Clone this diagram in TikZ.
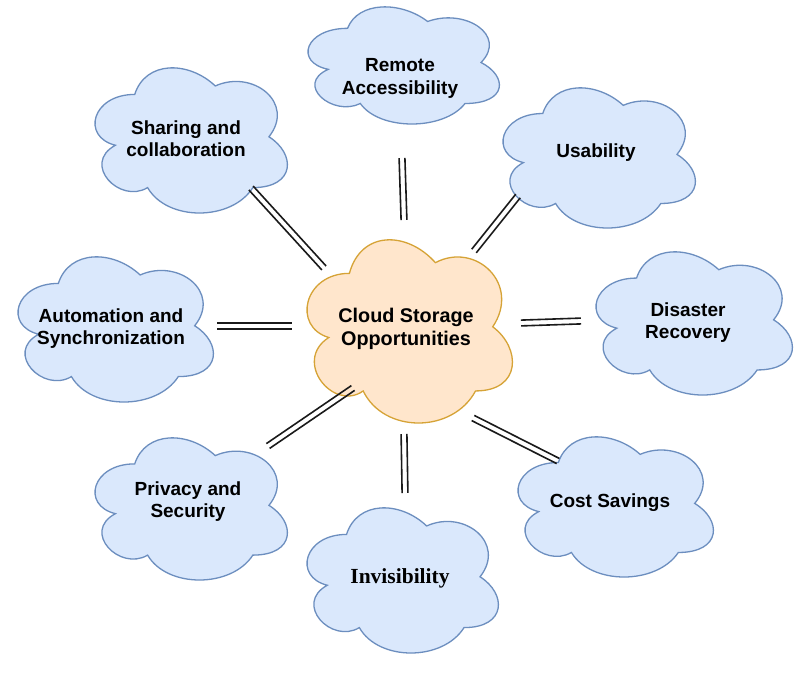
\documentclass[tikz,border=0pt]{standalone}
\usepackage{fontspec}
\setmainfont{Liberation Sans}
\newfontfamily\serifb{Liberation Serif}
\usetikzlibrary{calc}
\definecolor{bluefill}{HTML}{DAE8FC}
\definecolor{bluedraw}{HTML}{6C8EBF}
\definecolor{orfill}{HTML}{FFE6CC}
\definecolor{ordraw}{HTML}{D6A336}
\definecolor{linkcol}{HTML}{1A1A1A}
\newcommand\drawcloud[5]{%
 \pgfmathsetmacro\cldw{(#3-#1)/0.894}%
 \pgfmathsetmacro\cldh{(#4-#2)/0.856}%
 \pgfmathsetmacro\cldx{#1-0.065*\cldw}%
 \pgfmathsetmacro\cldy{#2-0.094*\cldh}%
 \draw[#5,shift={(\cldx,\cldy)},xscale=\cldw,yscale=\cldh]
  (0.25,0.25) .. controls (0.05,0.25) and (0,0.5) .. (0.16,0.55)
  .. controls (0,0.66) and (0.18,0.9) .. (0.31,0.8)
  .. controls (0.4,1) and (0.7,1) .. (0.8,0.8)
  .. controls (1,0.8) and (1,0.6) .. (0.875,0.5)
  .. controls (1,0.3) and (0.8,0.1) .. (0.625,0.2)
  .. controls (0.5,0.05) and (0.3,0.05) .. (0.25,0.25) -- cycle;}
\newcommand\dlink[2]{%
 \draw[linkline] ($(#1)!2.9pt!90:(#2)$) -- ($(#2)!2.9pt!-90:(#1)$);
 \draw[linkline] ($(#1)!2.9pt!-90:(#2)$) -- ($(#2)!2.9pt!90:(#1)$);}
\begin{document}
\begin{tikzpicture}[x=1pt,y=-1pt,
  bluecloud/.style={fill=bluefill,draw=bluedraw,line width=1.3pt},
  orcloud/.style={fill=orfill,draw=ordraw,line width=1.3pt},
  lbl/.style={font=\bfseries\fontsize{19}{22.7}\selectfont,align=center,inner sep=0pt},
  biglbl/.style={font=\bfseries\fontsize{19.8}{22.7}\selectfont,align=center,inner sep=0pt},
  serlbl/.style={font=\serifb\bfseries\fontsize{21.5}{24}\selectfont,inner sep=0pt},
  linkline/.style={draw=linkcol,line width=1.6pt}]
\useasboundingbox[fill=white] (0,0) rectangle (800,675);
% clouds
\drawcloud{307}{240}{512}{423}{orcloud}
\drawcloud{308}{7}{499}{124}{bluecloud}
\drawcloud{95}{68}{287}{213}{bluecloud}
\drawcloud{503}{88}{695}{228}{bluecloud}
\drawcloud{18}{257}{213}{402}{bluecloud}
\drawcloud{596}{252}{792}{395}{bluecloud}
\drawcloud{95}{438}{287}{580}{bluecloud}
\drawcloud{518}{437}{713}{577}{bluecloud}
\drawcloud{307}{508}{498}{653}{bluecloud}
% labels
\node[biglbl] (center) at (406,329) {Cloud Storage\\Opportunities};
\node[lbl] (remote) at (400,78.6) {Remote\\Accessibility};
\node[lbl] (sharing) at (186,138.6) {Sharing and\\collaboration};
\node[lbl] (usab) at (596,153) {Usability};
\node[lbl] (auto) at (111,328.6) {Automation and\\Synchronization};
\node[lbl] (disaster) at (688,322.6) {Disaster\\Recovery};
\node[lbl] (privacy) at (188,501.6) {Privacy and\\Security};
\node[lbl] (cost) at (610,503) {Cost Savings};
\node[serlbl] (invis) at (400,578) {Invisibility};
% connector ends
\coordinate (s1) at (251,188); \coordinate (s2) at (324,268);
\coordinate (r1) at (402,158); \coordinate (r2) at (404,220);
\coordinate (u1) at (518,196); \coordinate (u2) at (474,251);
\coordinate (a1) at (217,326); \coordinate (a2) at (292,326);
\coordinate (d1) at (521,323); \coordinate (d2) at (581,321);
\coordinate (p1) at (268,446); \coordinate (p2) at (353,388);
\coordinate (i1) at (404,434); \coordinate (i2) at (405,493);
\coordinate (c1) at (473,418); \coordinate (c2) at (558,461);
\dlink{s1}{s2}
\dlink{r1}{r2}
\dlink{u1}{u2}
\dlink{a1}{a2}
\dlink{d1}{d2}
\dlink{p1}{p2}
\dlink{i1}{i2}
\dlink{c1}{c2}
\end{tikzpicture}
\end{document}
